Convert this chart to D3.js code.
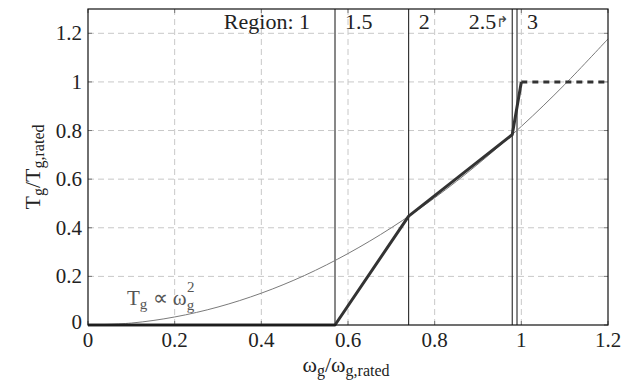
<!DOCTYPE html>
<html>
<head>
<meta charset="utf-8">
<script src="https://cdn.jsdelivr.net/npm/d3@7"></script>
<style>
  body { margin: 0; background: #fff; }
</style>
</head>
<body>
<div id="chart"></div>
<script>
// Data
const curveW = [0, 0.1, 0.2, 0.3, 0.4, 0.5, 0.6, 0.7, 0.8, 0.9, 1.0, 1.1, 1.2];
const curveT = [0, 0.008, 0.033, 0.074, 0.131, 0.204, 0.294, 0.4, 0.523, 0.662, 0.817, 0.989, 1.177];

const opW = [0, 0.57, 0.74, 0.979, 1.0];
const opT = [0, 0, 0.448, 0.783, 1.0];
const ratedW = [1.0, 1.2];
const ratedT = [1.0, 1.0];

const regionBounds = [0.57, 0.74, 0.979, 0.99];
const regionLabels = ['Region: 1', '1.5', '2', '2.5\u21B1', '3'];

const xTicks = [0, 0.2, 0.4, 0.6, 0.8, 1, 1.2];
const yTicks = [0, 0.2, 0.4, 0.6, 0.8, 1, 1.2];

const FONT = "'Liberation Serif', 'Times New Roman', serif";

// Set up dimensions
const W = 641, H = 381;
const margin = { top: 9, right: 33, bottom: 56, left: 88 };

const svg = d3.select('#chart').append('svg')
  .attr('width', W)
  .attr('height', H)
  .style('font-family', FONT);

const x = d3.scaleLinear().domain([0, 1.2]).range([margin.left, W - margin.right]);
const y = d3.scaleLinear().domain([0, 1.3]).range([H - margin.bottom, margin.top]);

const x0 = x.range()[0], x1 = x.range()[1];
const y0 = y.range()[0], y1 = y.range()[1];

// Grid
svg.append('g')
  .selectAll('line')
  .data(xTicks.filter(d => d > 0 && d < 1.2))
  .enter().append('line')
  .attr('x1', d => x(d)).attr('x2', d => x(d))
  .attr('y1', y0).attr('y2', y1)
  .attr('stroke', '#c8c8c8')
  .attr('stroke-dasharray', '6,4');

svg.append('g')
  .selectAll('line')
  .data(yTicks.filter(d => d > 0))
  .enter().append('line')
  .attr('x1', x0).attr('x2', x1)
  .attr('y1', d => y(d)).attr('y2', d => y(d))
  .attr('stroke', '#c8c8c8')
  .attr('stroke-dasharray', '6,4');

// Inner ticks on all four sides
const tickLen = 4;
xTicks.forEach(t => {
  svg.append('line').attr('x1', x(t)).attr('x2', x(t)).attr('y1', y0).attr('y2', y0 - tickLen).attr('stroke', '#777');
  svg.append('line').attr('x1', x(t)).attr('x2', x(t)).attr('y1', y1).attr('y2', y1 + tickLen).attr('stroke', '#777');
});
yTicks.forEach(t => {
  svg.append('line').attr('x1', x0).attr('x2', x0 + tickLen).attr('y1', y(t)).attr('y2', y(t)).attr('stroke', '#777');
  svg.append('line').attr('x1', x1).attr('x2', x1 - tickLen).attr('y1', y(t)).attr('y2', y(t)).attr('stroke', '#777');
});

// Region boundaries
svg.append('g')
  .selectAll('line')
  .data(regionBounds)
  .enter().append('line')
  .attr('x1', d => x(d)).attr('x2', d => x(d))
  .attr('y1', y0).attr('y2', y1)
  .attr('stroke', '#111')
  .attr('stroke-width', 1);

// T_g ~ w^2 curve
const line = d3.line()
  .x(d => x(d[0]))
  .y(d => y(d[1]))
  .curve(d3.curveCatmullRom);

svg.append('path')
  .datum(curveW.map((w, i) => [w, curveT[i]]))
  .attr('d', line)
  .attr('fill', 'none')
  .attr('stroke', '#7a7a7a')
  .attr('stroke-width', 1);

// Operating trajectory
const straight = d3.line().x(d => x(d[0])).y(d => y(d[1]));

svg.append('path')
  .datum(opW.map((w, i) => [w, opT[i]]))
  .attr('d', straight)
  .attr('fill', 'none')
  .attr('stroke', '#333')
  .attr('stroke-width', 3)
  .attr('stroke-linejoin', 'round');

svg.append('path')
  .datum(ratedW.map((w, i) => [w, ratedT[i]]))
  .attr('d', straight)
  .attr('fill', 'none')
  .attr('stroke', '#333')
  .attr('stroke-width', 3)
  .attr('stroke-dasharray', '6,5');

// Frame
svg.append('rect')
  .attr('x', x0).attr('y', y1)
  .attr('width', x1 - x0).attr('height', y0 - y1)
  .attr('fill', 'none')
  .attr('stroke', '#111')
  .attr('stroke-width', 1.2);

// Tick labels
svg.append('g')
  .selectAll('text')
  .data(xTicks)
  .enter().append('text')
  .attr('x', d => x(d))
  .attr('y', y0 + 22)
  .attr('text-anchor', 'middle')
  .attr('fill', '#222')
  .style('font-size', '21px')
  .text(d => d3.format('~g')(d));

svg.append('g')
  .selectAll('text')
  .data(yTicks)
  .enter().append('text')
  .attr('x', x0 - 6)
  .attr('y', d => y(d) + (d === 0 ? 4 : 7))
  .attr('text-anchor', 'end')
  .attr('fill', '#222')
  .style('font-size', '21px')
  .text(d => d3.format('~g')(d));

// Region labels (the arrow glyph drawn a bit smaller and lighter)
const labelY = 29;
regionLabels.forEach((lab, i) => {
  let px, anchor;
  if (i === 0) { px = x(regionBounds[0]) - 25; anchor = 'end'; }
  else if (i === 3) { px = x(regionBounds[2]) - 3; anchor = 'end'; }
  else { px = x(regionBounds[i - 1]) + 10; anchor = 'start'; }
  const t = svg.append('text')
    .attr('x', px)
    .attr('y', labelY)
    .attr('text-anchor', anchor)
    .attr('fill', '#222')
    .style('font-size', '22px');
  if (lab.endsWith('\u21B1')) {
    t.append('tspan').text(lab.slice(0, -1));
    t.append('tspan').text('\u21B1')
      .style('font-size', '15px')
      .style('font-weight', '300')
      .attr('fill', '#444')
      .attr('dy', -2);
  } else {
    t.text(lab);
  }
});

// Helper: symbol with subscript
function subText(sel, parts) {
  parts.forEach(p => {
    const t = sel.append('tspan').text(p.t);
    if (p.size) t.style('font-size', p.size);
    if (p.dy) t.attr('dy', p.dy);
  });
}

// Curve label
const cl = svg.append('text')
  .attr('x', 127).attr('y', 305)
  .attr('fill', '#555')
  .style('font-size', '21px');
subText(cl, [
  { t: 'T' },
  { t: 'g', size: '15px', dy: 4 },
  { t: ' \u221D \u03C9', dy: -4 },
  { t: 'g', size: '15px', dy: 5 }
]);
svg.append('text')
  .attr('x', 187).attr('y', 292)
  .attr('fill', '#555')
  .style('font-size', '15px')
  .text('2');

// X axis label
const xl = svg.append('text')
  .attr('x', 346).attr('y', 372)
  .attr('text-anchor', 'middle')
  .attr('fill', '#222')
  .style('font-size', '22px');
subText(xl, [
  { t: '\u03C9' },
  { t: 'g', size: '16px', dy: 4 },
  { t: '/\u03C9', dy: -4 },
  { t: 'g,rated', size: '16px', dy: 4 }
]);

// Y axis label
const yl = svg.append('text')
  .attr('transform', `translate(40,${(y0 + y1) / 2}) rotate(-90)`)
  .attr('text-anchor', 'middle')
  .attr('fill', '#222')
  .style('font-size', '22px');
subText(yl, [
  { t: 'T' },
  { t: 'g', size: '16px', dy: 4 },
  { t: '/T', dy: -4 },
  { t: 'g,rated', size: '16px', dy: 4 }
]);
</script>
</body>
</html>
